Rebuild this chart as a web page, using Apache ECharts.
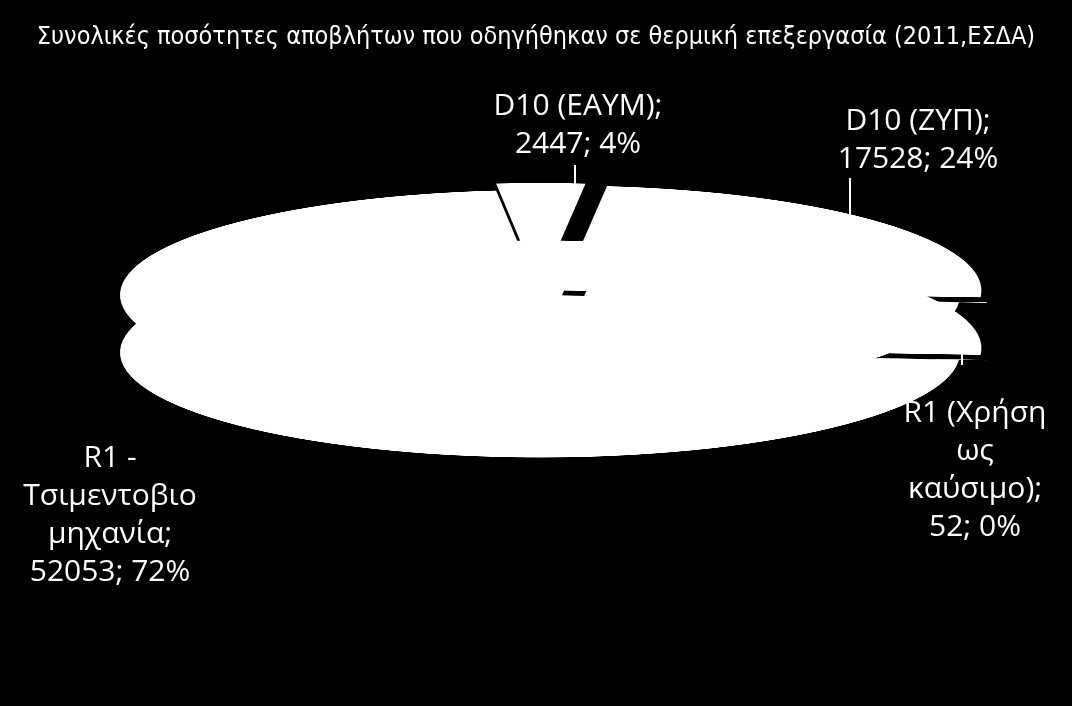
<!DOCTYPE html>
<html><head><meta charset="utf-8">
<script src="https://cdn.jsdelivr.net/npm/echarts@6/dist/echarts.min.js"></script>
<style>html,body{margin:0;background:#000;overflow:hidden;width:1072px;height:706px}
#pie{position:absolute;left:0;top:-405px;width:1072px;height:1600px;transform:scaleY(0.25);transform-origin:540px 700px}
#txt{position:absolute;left:0;top:0;width:1072px;height:706px}</style></head>
<body><div id="pie"></div><div id="txt"></div>
<script>
const titleText = 'Συνολικές ποσότητες αποβλήτων που οδηγήθηκαν σε θερμική επεξεργασία (2011,ΕΣΔΑ)';
const categories = ['D10 (ΕΑΥΜ)', 'D10 (ΖΥΠ)', 'R1 (Χρήση ως καύσιμο)', 'R1 - Τσιμεντοβιομηχανία'];
const values = [2447, 17528, 52, 52053];
const percents = [4, 24, 0, 72];
const selected = [true, true, true, false];
const labelLines = [['D10 (ΕΑΥΜ);','2447; 4%'],['D10 (ΖΥΠ);','17528; 24%'],['R1 (Χρήση','ως','καύσιμο);','52; 0%'],['R1 -','Τσιμεντοβιο','μηχανία;','52053; 72%']];
const labelPos = [[578,125],[918,140],[975,470],[110,515]];

const data = categories.map((c,i)=>({name:c,value:values[i],selected:selected[i]}));
function ser(cy){return {type:'pie',center:[540,cy],radius:420,startAngle:96,selectedMode:'multiple',selectedOffset:28,
  silent:true,animation:false,label:{show:false},labelLine:{show:false},
  itemStyle:{color:'#fff',borderWidth:0},data:data};}
const p = echarts.init(document.getElementById('pie'));
p.setOption({backgroundColor:'transparent',series:[ser(930),ser(700)]});
const t = echarts.init(document.getElementById('txt'));
t.setOption({backgroundColor:'transparent',
  title:{text:titleText,left:'center',top:20,textStyle:{color:'#fff',fontSize:25,fontWeight:'normal',fontFamily:'DejaVu Sans Condensed'}},
  graphic:labelLines.map((l,i)=>({type:'text',x:labelPos[i][0],y:labelPos[i][1],style:{text:l.join('\n'),fill:'#fff',font:'30px "Open Sans"',align:'center',verticalAlign:'middle',lineHeight:38}}))
   .concat([{type:'line',shape:{x1:575,y1:165,x2:575,y2:190},style:{stroke:'#fff',lineWidth:2}},
            {type:'line',shape:{x1:850,y1:178,x2:850,y2:215},style:{stroke:'#fff',lineWidth:2}},
            {type:'line',shape:{x1:962,y1:345,x2:962,y2:365},style:{stroke:'#fff',lineWidth:2}}])
});
</script></body></html>
